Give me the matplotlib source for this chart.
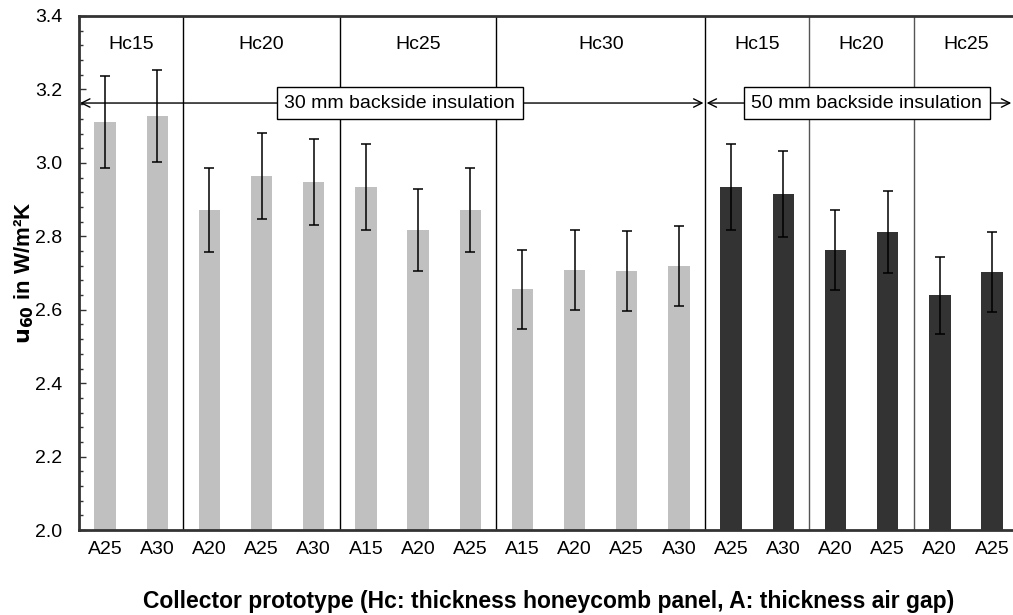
import matplotlib
matplotlib.use('Agg')
import matplotlib.pyplot as plt
import numpy as np

plt.rcParams['font.family'] = ['Liberation Sans', 'DejaVu Sans']

# data
labels = ['A25', 'A30', 'A20', 'A25', 'A30', 'A15', 'A20', 'A25',
          'A15', 'A20', 'A25', 'A30', 'A25', 'A30', 'A20', 'A25', 'A20', 'A25']
values = [3.111, 3.128, 2.872, 2.964, 2.948, 2.934, 2.817, 2.872,
          2.656, 2.708, 2.706, 2.719, 2.934, 2.915, 2.763, 2.812, 2.640, 2.703]
errors = [0.125, 0.125, 0.115, 0.118, 0.118, 0.118, 0.112, 0.115,
          0.107, 0.109, 0.109, 0.108, 0.117, 0.117, 0.110, 0.112, 0.105, 0.108]
group_names = ['Hc15', 'Hc20', 'Hc25', 'Hc30', 'Hc15', 'Hc20', 'Hc25']
group_sizes = [2, 3, 3, 4, 2, 2, 2]
insulation = ['30 mm backside insulation', '50 mm backside insulation']
insulation_groups = [4, 3]   # number of Hc groups per insulation block

light = '#C0C0C0'
dark = '#333333'
fs = 14

fig = plt.figure(figsize=(10.13, 6.15), dpi=100)
ax = fig.add_axes([0.078, 0.138, 0.927, 0.836])

x = np.arange(len(values))
n30 = sum(group_sizes[:insulation_groups[0]])
colors = [light] * n30 + [dark] * (len(values) - n30)
ax.bar(x, values, width=0.41, color=colors, zorder=2)
ax.errorbar(x, values, yerr=errors, fmt='none', ecolor='black',
            elinewidth=1.1, capsize=3.5, capthick=1.1, zorder=3)

ax.set_xlim(-0.5, len(values) - 0.5)
ax.set_ylim(2.0, 3.4)
ax.set_yticks(np.arange(2.0, 3.41, 0.2))
ax.set_yticks(np.arange(2.0, 3.41, 0.04), minor=True)
ax.yaxis.set_major_formatter(matplotlib.ticker.FormatStrFormatter('%.1f'))
ax.tick_params(axis='y', direction='in', length=5, width=1, labelsize=fs,
               pad=12, color='#333333')
ax.tick_params(axis='y', which='minor', direction='in', length=3, width=1,
               color='#333333')
ax.set_xticks(x)
ax.set_xticklabels(labels)
ax.tick_params(axis='x', length=0, labelsize=fs, pad=8)

for s in ['left', 'bottom', 'top']:
    ax.spines[s].set_linewidth(2)
    ax.spines[s].set_color('#333333')
ax.spines['right'].set_visible(False)

# group separators and names
edges = np.cumsum([0] + group_sizes)
for i, name in enumerate(group_names):
    if i > 0:
        col = 'black' if i <= insulation_groups[0] else '#555555'
        ax.axvline(edges[i] - 0.5, color=col, linewidth=1, zorder=1)
    cx = (edges[i] + edges[i + 1] - 1) / 2
    ax.text(cx, 3.322, name, ha='center', va='center', fontsize=fs)

# insulation arrows
ya = 3.163
split = n30 - 0.5
ax.annotate('', xy=(-0.48, ya), xytext=(split - 0.03, ya),
            arrowprops=dict(arrowstyle='<->', lw=1, color='black',
                            shrinkA=0, shrinkB=0, mutation_scale=15))
ax.annotate('', xy=(split + 0.03, ya), xytext=(17.37, ya),
            arrowprops=dict(arrowstyle='<->', lw=1, color='black',
                            shrinkA=0, shrinkB=0, mutation_scale=15))
box = dict(boxstyle='square,pad=0.4', facecolor='white', edgecolor='black', linewidth=1)
ax.text(5.65, ya, insulation[0], ha='center', va='center', fontsize=fs, bbox=box, zorder=4)
ax.text(14.6, ya, insulation[1], ha='center', va='center', fontsize=fs, bbox=box, zorder=4)

ax.set_ylabel(r'$\mathbf{u_{60}}$ in W/m²K', fontsize=16, fontweight='bold')
ax.yaxis.set_label_coords(-0.046, 0.5)
ax.set_xlabel('Collector prototype (Hc: thickness honeycomb panel, A: thickness air gap)',
              fontsize=16.5, fontweight='bold', labelpad=23)

fig.savefig('out.png', dpi=100, facecolor='white')
